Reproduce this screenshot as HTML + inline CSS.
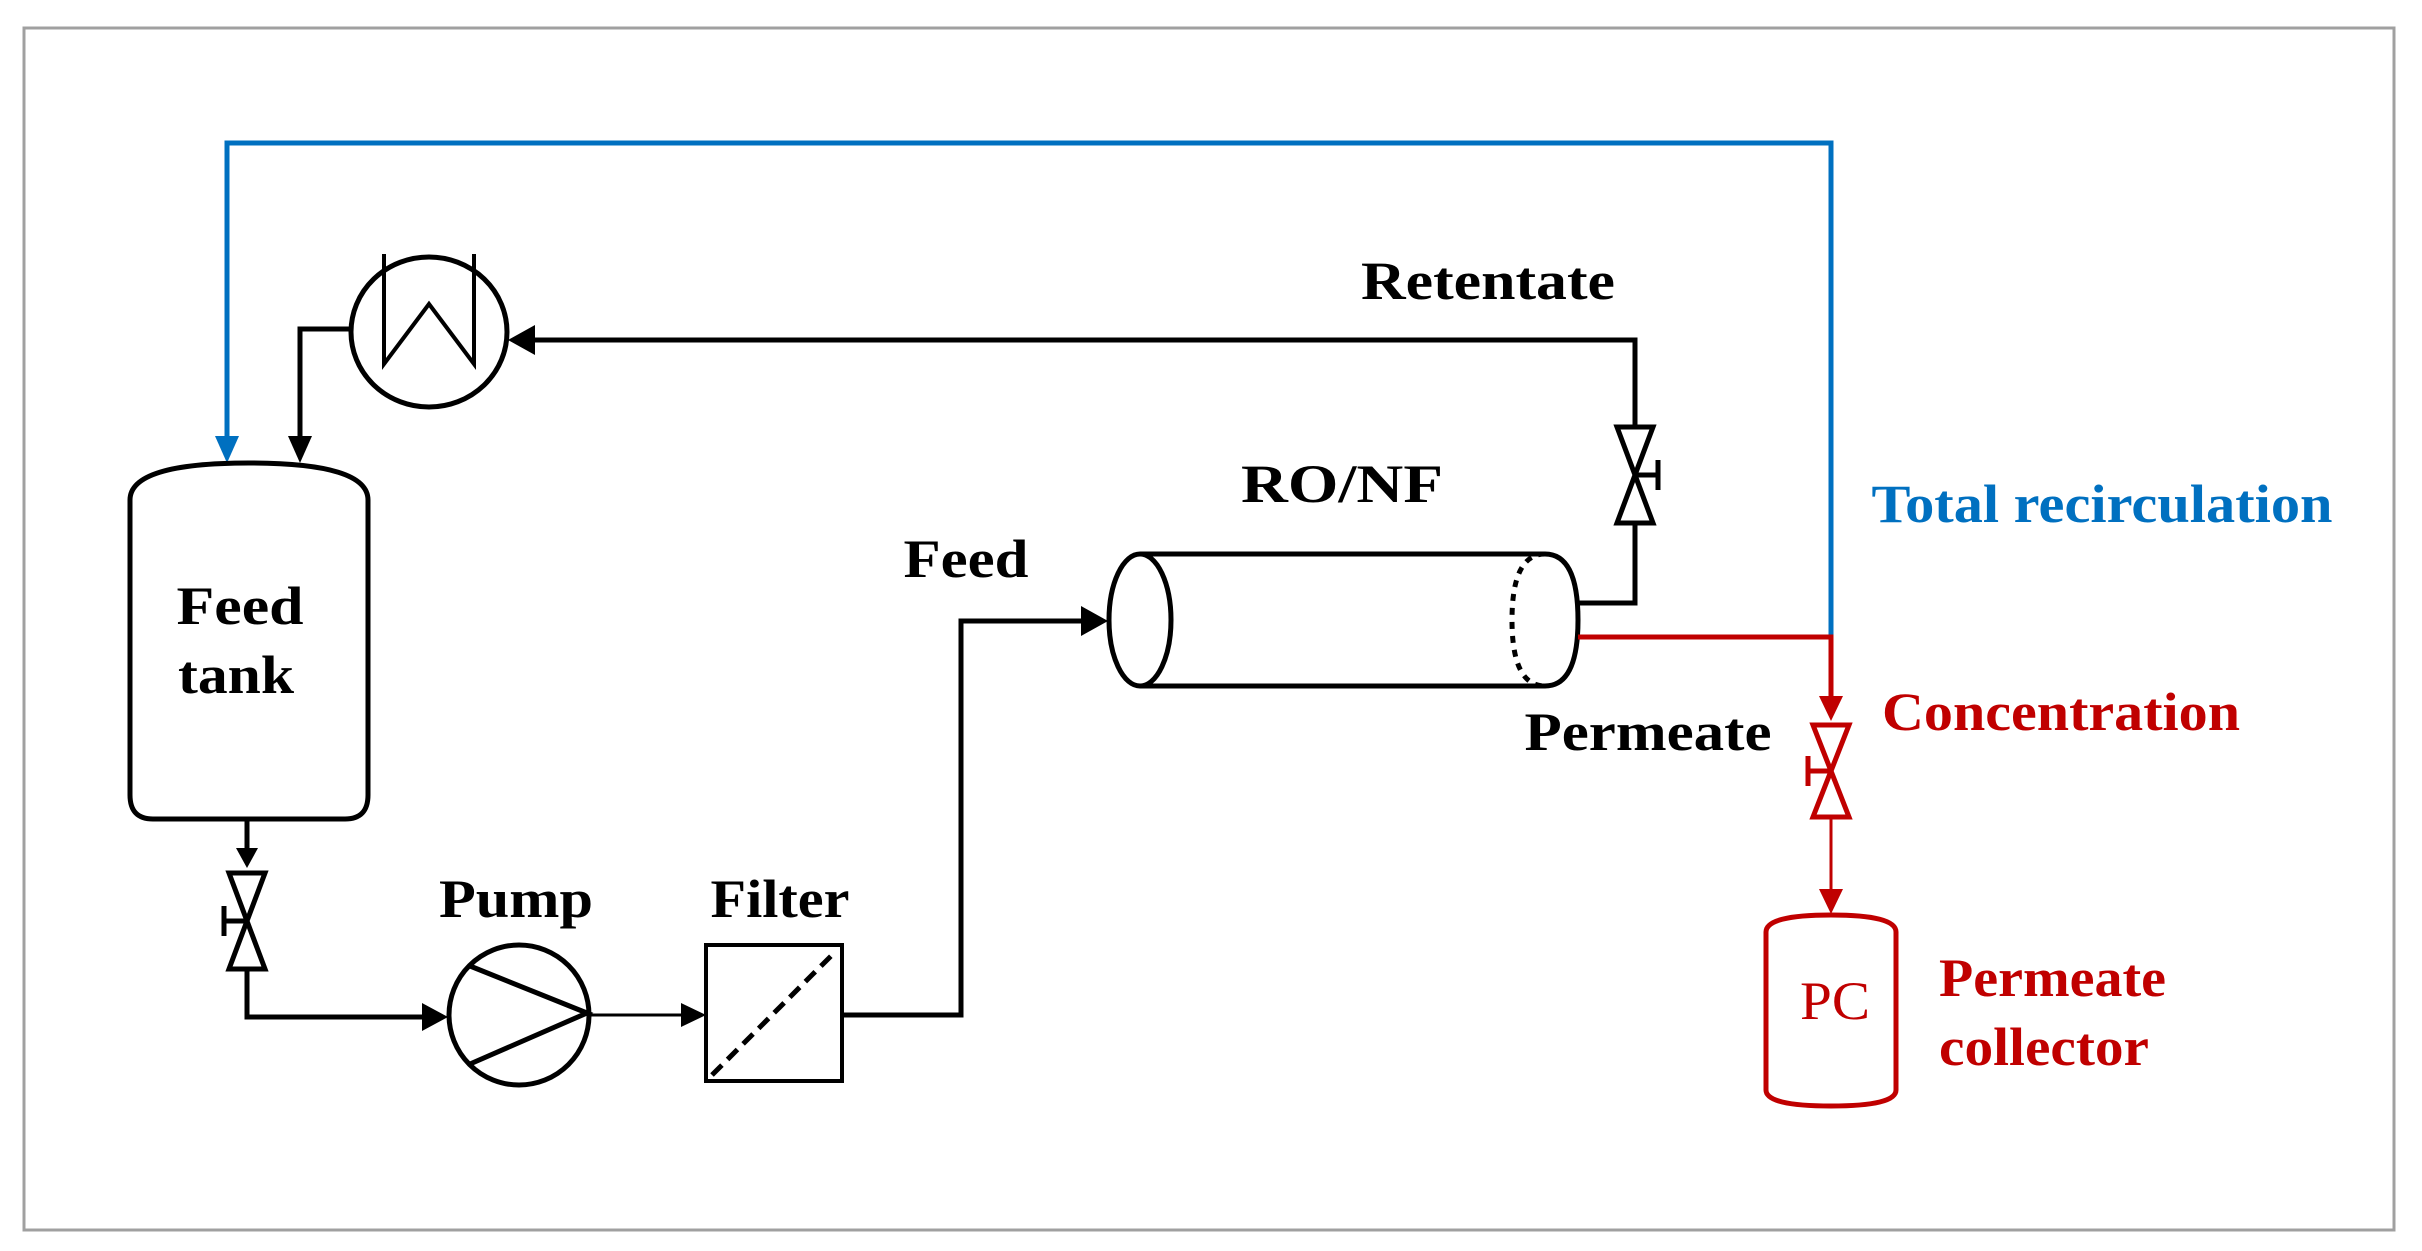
<!DOCTYPE html>
<html><head><meta charset="utf-8"><style>
html,body{margin:0;padding:0;background:#fff;}
svg{display:block;}
text{font-family:"Liberation Serif",serif;font-weight:bold;font-size:54px;}
</style></head><body>
<svg width="2422" height="1251" viewBox="0 0 2422 1251" xmlns="http://www.w3.org/2000/svg">
<rect x="24" y="28" width="2370" height="1202" fill="none" stroke="#a0a0a0" stroke-width="3"/>

<!-- blue recirculation -->
<polyline points="1831,637 1831,143 227,143 227,440" fill="none" stroke="#0070c0" stroke-width="5"/>
<path d="M215,436 L239,436 L227,463 z" fill="#0070c0"/>

<!-- heat exchanger -->
<ellipse cx="429" cy="332" rx="78" ry="75" fill="none" stroke="#000" stroke-width="5"/>
<polyline points="384,254 384,364 429,304 474,364 474,254" fill="none" stroke="#000" stroke-width="4"/>
<polyline points="350,329 300,329 300,440" fill="none" stroke="#000" stroke-width="5"/>
<path d="M288,436 L312,436 L300,463 z" fill="#000"/>

<!-- retentate line -->
<polyline points="1576,603 1635,603 1635,340 530,340" fill="none" stroke="#000" stroke-width="5"/>
<path d="M535,325 L535,355 L508,340 z" fill="#000"/>
<path d="M1617,427 L1653,427 L1617,523 L1653,523 z" fill="#fff" stroke="#000" stroke-width="5"/>
<line x1="1635" y1="475" x2="1658" y2="475" stroke="#000" stroke-width="5"/>
<line x1="1658" y1="460" x2="1658" y2="490" stroke="#000" stroke-width="5"/>

<!-- feed tank -->
<path d="M130,500 Q130,463 249,463 Q368,463 368,500 L368,795 Q368,819 345,819 L153,819 Q130,819 130,795 z" fill="none" stroke="#000" stroke-width="5"/>
<text x="240" y="624" text-anchor="middle" textLength="127" lengthAdjust="spacingAndGlyphs">Feed</text>
<text x="236" y="693" text-anchor="middle" textLength="116" lengthAdjust="spacingAndGlyphs">tank</text>

<line x1="247" y1="819" x2="247" y2="852" stroke="#000" stroke-width="5"/>
<path d="M236,848 L258,848 L247,868 z" fill="#000"/>
<path d="M229,873 L265,873 L229,969 L265,969 z" fill="#fff" stroke="#000" stroke-width="5"/>
<line x1="247" y1="921" x2="224" y2="921" stroke="#000" stroke-width="5"/>
<line x1="224" y1="906" x2="224" y2="936" stroke="#000" stroke-width="5"/>
<polyline points="247,969 247,1017 425,1017" fill="none" stroke="#000" stroke-width="5"/>
<path d="M422,1003 L422,1031 L448,1017 z" fill="#000"/>

<!-- pump -->
<circle cx="519" cy="1015" r="70" fill="none" stroke="#000" stroke-width="5"/>
<polyline points="470,966 587,1013 470,1064" fill="none" stroke="#000" stroke-width="5"/>
<line x1="589" y1="1015" x2="685" y2="1015" stroke="#000" stroke-width="3"/>
<path d="M681,1003 L681,1027 L706,1015 z" fill="#000"/>
<text x="516" y="917" text-anchor="middle" textLength="154" lengthAdjust="spacingAndGlyphs">Pump</text>

<!-- filter -->
<rect x="706" y="945" width="136" height="136" fill="none" stroke="#000" stroke-width="4"/>
<line x1="712" y1="1075" x2="836" y2="951" stroke="#000" stroke-width="5" stroke-dasharray="14,8"/>
<text x="780" y="917" text-anchor="middle" textLength="139" lengthAdjust="spacingAndGlyphs">Filter</text>

<!-- feed line -->
<polyline points="842,1015 961,1015 961,621 1085,621" fill="none" stroke="#000" stroke-width="5"/>
<path d="M1081,606 L1081,636 L1108,621 z" fill="#000"/>
<text x="966" y="577" text-anchor="middle" textLength="125" lengthAdjust="spacingAndGlyphs">Feed</text>

<!-- RO/NF cylinder -->
<line x1="1140" y1="554" x2="1545" y2="554" stroke="#000" stroke-width="5"/>
<line x1="1140" y1="686" x2="1545" y2="686" stroke="#000" stroke-width="5"/>
<ellipse cx="1140" cy="620" rx="31" ry="66" fill="#fff" stroke="#000" stroke-width="5"/>
<path d="M1545,554 Q1578,554 1578,620 Q1578,686 1545,686" fill="none" stroke="#000" stroke-width="5"/>
<path d="M1545,554 Q1512,554 1512,620 Q1512,686 1545,686" fill="none" stroke="#000" stroke-width="5" stroke-dasharray="7,7"/>
<text x="1342" y="502" text-anchor="middle" textLength="202" lengthAdjust="spacingAndGlyphs">RO/NF</text>
<text x="1488" y="299" text-anchor="middle" textLength="254" lengthAdjust="spacingAndGlyphs">Retentate</text>

<!-- permeate red -->
<polyline points="1578,637 1831,637 1831,700" fill="none" stroke="#c00000" stroke-width="5"/>
<path d="M1819,696 L1843,696 L1831,721 z" fill="#c00000"/>
<path d="M1813,725 L1849,725 L1813,817 L1849,817 z" fill="#fff" stroke="#c00000" stroke-width="5"/>
<line x1="1831" y1="771" x2="1808" y2="771" stroke="#c00000" stroke-width="5"/>
<line x1="1808" y1="756" x2="1808" y2="786" stroke="#c00000" stroke-width="5"/>
<line x1="1831" y1="817" x2="1831" y2="893" stroke="#c00000" stroke-width="3"/>
<path d="M1819,889 L1843,889 L1831,914 z" fill="#c00000"/>
<text x="1648" y="750" text-anchor="middle" textLength="247" lengthAdjust="spacingAndGlyphs">Permeate</text>
<text x="2061" y="730" text-anchor="middle" fill="#c00000" textLength="358" lengthAdjust="spacingAndGlyphs">Concentration</text>
<text x="2102" y="522" text-anchor="middle" fill="#0070c0" textLength="461" lengthAdjust="spacingAndGlyphs">Total recirculation</text>

<!-- PC -->
<path d="M1766,932 Q1766,915 1831,915 Q1896,915 1896,932 L1896,1090 Q1896,1106 1831,1106 Q1766,1106 1766,1090 z" fill="none" stroke="#c00000" stroke-width="5"/>
<text x="1835" y="1019" text-anchor="middle" fill="#c00000" textLength="70" lengthAdjust="spacingAndGlyphs" style="font-weight:normal">PC</text>
<text x="1939" y="996" fill="#c00000" textLength="227" lengthAdjust="spacingAndGlyphs">Permeate</text>
<text x="1939" y="1065" fill="#c00000" textLength="210" lengthAdjust="spacingAndGlyphs">collector</text>
</svg>
</body></html>
